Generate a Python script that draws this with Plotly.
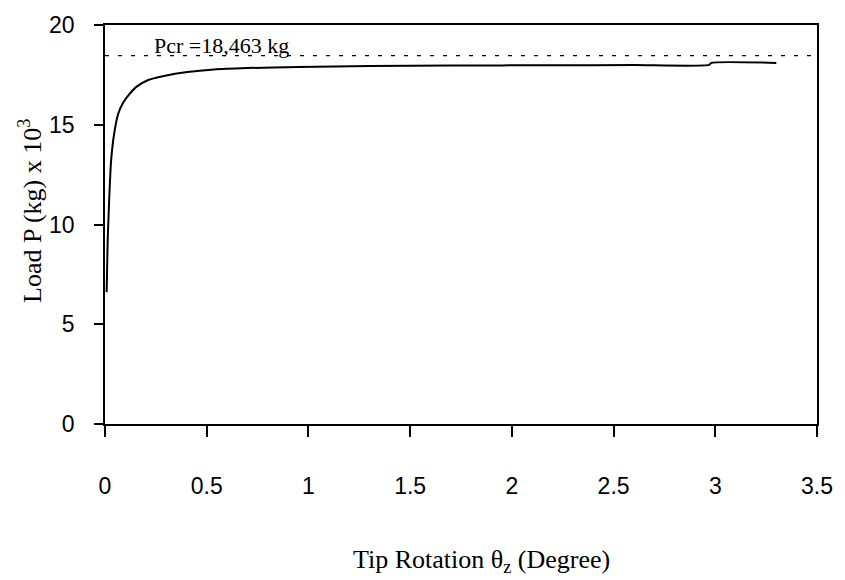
import plotly.graph_objects as go

# Load-rotation response of the tip (load in 10^3 kg, rotation in degrees)
rotation_deg = [0.008, 0.013, 0.02, 0.03, 0.045, 0.065, 0.089, 0.113, 0.154, 0.21,
                0.29, 0.405, 0.535, 0.7, 0.95, 1.3, 1.7, 2.2, 2.6, 2.97, 2.98, 3.3]
load_kg_e3 = [6.6, 9.1, 11.1, 13.2, 14.55, 15.55, 16.1, 16.45, 16.9, 17.23,
              17.44, 17.64, 17.77, 17.84, 17.9, 17.94, 17.97, 17.98, 17.99, 18.0, 18.1, 18.1]

# Critical buckling load
pcr_kg = 18463
pcr_label = "Pcr =18,463 kg"

x_ticks = [0, 0.5, 1, 1.5, 2, 2.5, 3, 3.5]
y_ticks = [0, 5, 10, 15, 20]

fig = go.Figure()

fig.add_trace(go.Scatter(
    x=[0, 3.5], y=[pcr_kg / 1000, pcr_kg / 1000],
    mode="lines", line=dict(color="black", width=1.3, dash="4px,9px"),
    hoverinfo="skip", showlegend=False,
))

fig.add_trace(go.Scatter(
    x=rotation_deg, y=load_kg_e3,
    mode="lines", line=dict(color="black", width=2, shape="spline", smoothing=0.6),
    showlegend=False,
))

tick_font = dict(family="Liberation Sans, Arial, sans-serif", size=23, color="black")
serif = "Liberation Serif, Times New Roman, serif"

fig.update_xaxes(
    range=[0, 3.5], tickvals=x_ticks, ticktext=[f"{v:g}" for v in x_ticks],
    ticks="outside", ticklen=11, tickwidth=1.5, tickcolor="black",
    showline=True, linecolor="black", linewidth=1.5, mirror=True,
    showgrid=False, zeroline=False, tickfont=tick_font, ticklabelstandoff=30,
)
fig.update_yaxes(
    range=[0, 20], tickvals=y_ticks, ticktext=[str(v) for v in y_ticks],
    ticks="outside", ticklen=9, tickwidth=1.5, tickcolor="black",
    showline=True, linecolor="black", linewidth=1.5, mirror=True,
    showgrid=False, zeroline=False, tickfont=tick_font, ticklabelstandoff=15,
)

plot_l, plot_r, plot_t, plot_b = 104.5, 824, 20, 424
pw, ph = plot_r - plot_l, plot_b - plot_t

fig.add_annotation(
    x=(152 - plot_l) / pw, y=(plot_b - 41) / ph, xref="paper", yref="paper",
    text=pcr_label, showarrow=False, xanchor="left", yanchor="middle",
    font=dict(family=serif, size=22, color="black"),
)
fig.add_annotation(
    x=(485 - plot_l) / pw, y=(plot_b - 563) / ph, xref="paper", yref="paper",
    text="Tip Rotation θ<sub>z</sub> (Degree)", showarrow=False,
    xanchor="center", yanchor="middle",
    font=dict(family=serif, size=26, color="black"),
)
fig.add_annotation(
    x=(29 - plot_l) / pw, y=(plot_b - 208) / ph, xref="paper", yref="paper",
    text="Load P (kg) x 10<sup>3</sup>", showarrow=False, textangle=-90,
    xanchor="center", yanchor="middle",
    font=dict(family=serif, size=26, color="black"),
)

fig.update_layout(
    width=845, height=580,
    margin=dict(l=plot_l, r=845 - plot_r, t=plot_t, b=580 - plot_b),
    paper_bgcolor="white", plot_bgcolor="white",
)

fig.write_html("out.html")
